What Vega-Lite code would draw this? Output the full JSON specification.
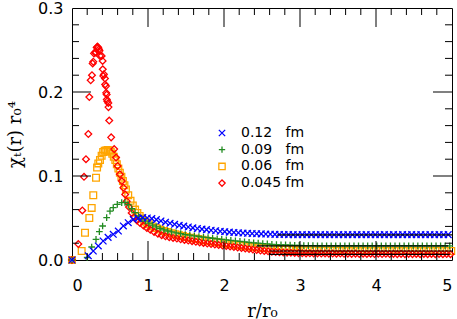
{
"$schema": "https://vega.github.io/schema/vega-lite/v6.json",
"width": 380, "height": 252,
"autosize": {"type": "none"},
"padding": {"left": 72, "top": 8, "right": 5, "bottom": 59},
"config": {
  "view": {"stroke": "#000", "strokeWidth": 1},
  "axis": {"domain": false, "grid": false, "ticks": false, "labelColor": "#000", "titleColor": "#000", "labelFont": "DejaVu Sans", "labelFontSize": 16, "titleFont": "DejaVu Serif", "titleFontSize": 18, "titleFontWeight": "normal"}
},
"datasets": {
"pts": [
{"a":"0.06","r":0,"v":0},{"a":"0.06","r":0.127,"v":0.0107},{"a":"0.06","r":0.171,"v":0.0325},{"a":"0.06","r":0.228,"v":0.05},{"a":"0.06","r":0.259,"v":0.062},{"a":"0.06","r":0.28,"v":0.077},{"a":"0.06","r":0.316,"v":0.098},{"a":"0.06","r":0.33,"v":0.11},{"a":"0.06","r":0.346,"v":0.115},{"a":"0.06","r":0.368,"v":0.119},{"a":"0.06","r":0.39,"v":0.124},{"a":"0.06","r":0.41,"v":0.1285},{"a":"0.06","r":0.43,"v":0.13},{"a":"0.06","r":0.45,"v":0.1305},{"a":"0.06","r":0.47,"v":0.131},{"a":"0.06","r":0.49,"v":0.1305},{"a":"0.06","r":0.51,"v":0.129},{"a":"0.06","r":0.53,"v":0.1265},{"a":"0.06","r":0.55,"v":0.123},{"a":"0.06","r":0.57,"v":0.119},{"a":"0.06","r":0.59,"v":0.114},{"a":"0.06","r":0.61,"v":0.109},{"a":"0.06","r":0.63,"v":0.104},{"a":"0.06","r":0.65,"v":0.099},{"a":"0.06","r":0.67,"v":0.094},{"a":"0.06","r":0.69,"v":0.089},{"a":"0.06","r":0.71,"v":0.084},{"a":"0.06","r":0.74,"v":0.077},{"a":"0.06","r":0.77,"v":0.0705},{"a":"0.06","r":0.8,"v":0.065},{"a":"0.06","r":0.83,"v":0.06},{"a":"0.06","r":0.86,"v":0.056},{"a":"0.06","r":0.89,"v":0.0525},{"a":"0.06","r":0.92,"v":0.0495},{"a":"0.06","r":0.95,"v":0.0468},{"a":"0.06","r":0.98,"v":0.0445},{"a":"0.06","r":1.01,"v":0.0425},{"a":"0.06","r":1.06,"v":0.04},{"a":"0.06","r":1.11,"v":0.038},{"a":"0.06","r":1.16,"v":0.0362},{"a":"0.06","r":1.21,"v":0.0346},{"a":"0.06","r":1.26,"v":0.0332},{"a":"0.06","r":1.31,"v":0.0318},{"a":"0.06","r":1.36,"v":0.0306},{"a":"0.06","r":1.41,"v":0.0295},{"a":"0.06","r":1.46,"v":0.0285},{"a":"0.06","r":1.51,"v":0.0275},{"a":"0.06","r":1.56,"v":0.0266},{"a":"0.06","r":1.61,"v":0.0257},{"a":"0.06","r":1.66,"v":0.0249},{"a":"0.06","r":1.71,"v":0.0241},{"a":"0.06","r":1.76,"v":0.0233},{"a":"0.06","r":1.81,"v":0.0225},{"a":"0.06","r":1.86,"v":0.0218},{"a":"0.06","r":1.91,"v":0.0211},{"a":"0.06","r":1.96,"v":0.0204},{"a":"0.06","r":2.01,"v":0.0197},{"a":"0.06","r":2.06,"v":0.0191},{"a":"0.06","r":2.11,"v":0.0185},{"a":"0.06","r":2.16,"v":0.0179},{"a":"0.06","r":2.21,"v":0.0173},{"a":"0.06","r":2.26,"v":0.0167},{"a":"0.06","r":2.31,"v":0.0162},{"a":"0.06","r":2.36,"v":0.0157},{"a":"0.06","r":2.41,"v":0.0152},{"a":"0.06","r":2.46,"v":0.0148},{"a":"0.06","r":2.51,"v":0.0144},{"a":"0.06","r":2.56,"v":0.014},{"a":"0.06","r":2.61,"v":0.0136},{"a":"0.06","r":2.66,"v":0.0133},{"a":"0.06","r":2.71,"v":0.013},{"a":"0.06","r":2.76,"v":0.0127},{"a":"0.06","r":2.81,"v":0.0124},{"a":"0.06","r":2.86,"v":0.0122},{"a":"0.06","r":2.91,"v":0.012},{"a":"0.06","r":2.96,"v":0.0118},{"a":"0.06","r":3.01,"v":0.0116},{"a":"0.06","r":3.07,"v":0.0115},{"a":"0.06","r":3.13,"v":0.0114},{"a":"0.06","r":3.19,"v":0.0113},{"a":"0.06","r":3.25,"v":0.0112},{"a":"0.06","r":3.31,"v":0.0111},{"a":"0.06","r":3.37,"v":0.0111},{"a":"0.06","r":3.43,"v":0.011},{"a":"0.06","r":3.49,"v":0.011},{"a":"0.06","r":3.55,"v":0.0109},{"a":"0.06","r":3.61,"v":0.0109},{"a":"0.06","r":3.67,"v":0.0109},{"a":"0.06","r":3.73,"v":0.0108},{"a":"0.06","r":3.79,"v":0.0108},{"a":"0.06","r":3.85,"v":0.0108},{"a":"0.06","r":3.91,"v":0.0108},{"a":"0.06","r":3.97,"v":0.0107},{"a":"0.06","r":4.03,"v":0.0107},{"a":"0.06","r":4.09,"v":0.0107},{"a":"0.06","r":4.15,"v":0.0107},{"a":"0.06","r":4.21,"v":0.0107},{"a":"0.06","r":4.27,"v":0.0107},{"a":"0.06","r":4.33,"v":0.0107},{"a":"0.06","r":4.39,"v":0.0107},{"a":"0.06","r":4.45,"v":0.0107},{"a":"0.06","r":4.51,"v":0.0107},{"a":"0.06","r":4.57,"v":0.0107},{"a":"0.06","r":4.63,"v":0.0107},{"a":"0.06","r":4.69,"v":0.0107},{"a":"0.06","r":4.75,"v":0.0107},{"a":"0.06","r":4.81,"v":0.0107},{"a":"0.06","r":4.87,"v":0.0107},{"a":"0.06","r":4.93,"v":0.0107},{"a":"0.06","r":4.99,"v":0.0107},
{"a":"0.045","r":0,"v":0},{"a":"0.045","r":0.083,"v":0.019},{"a":"0.045","r":0.136,"v":0.059},{"a":"0.045","r":0.158,"v":0.099},{"a":"0.045","r":0.184,"v":0.12},{"a":"0.045","r":0.215,"v":0.15},{"a":"0.045","r":0.228,"v":0.194},{"a":"0.045","r":0.246,"v":0.214},{"a":"0.045","r":0.263,"v":0.22},{"a":"0.045","r":0.272,"v":0.234},{"a":"0.045","r":0.28,"v":0.236},{"a":"0.045","r":0.289,"v":0.246},{"a":"0.045","r":0.303,"v":0.247},{"a":"0.045","r":0.316,"v":0.247},{"a":"0.045","r":0.325,"v":0.253},{"a":"0.045","r":0.335,"v":0.254},{"a":"0.045","r":0.345,"v":0.253},{"a":"0.045","r":0.355,"v":0.251},{"a":"0.045","r":0.362,"v":0.249},{"a":"0.045","r":0.368,"v":0.243},{"a":"0.045","r":0.39,"v":0.243},{"a":"0.045","r":0.403,"v":0.237},{"a":"0.045","r":0.405,"v":0.227},{"a":"0.045","r":0.412,"v":0.219},{"a":"0.045","r":0.42,"v":0.221},{"a":"0.045","r":0.434,"v":0.216},{"a":"0.045","r":0.436,"v":0.209},{"a":"0.045","r":0.447,"v":0.207},{"a":"0.045","r":0.449,"v":0.199},{"a":"0.045","r":0.456,"v":0.197},{"a":"0.045","r":0.458,"v":0.191},{"a":"0.045","r":0.465,"v":0.189},{"a":"0.045","r":0.478,"v":0.187},{"a":"0.045","r":0.48,"v":0.182},{"a":"0.045","r":0.49,"v":0.166},{"a":"0.045","r":0.515,"v":0.146},{"a":"0.045","r":0.555,"v":0.132},{"a":"0.045","r":0.58,"v":0.122},{"a":"0.045","r":0.6,"v":0.112},{"a":"0.045","r":0.63,"v":0.102},{"a":"0.045","r":0.655,"v":0.094},{"a":"0.045","r":0.676,"v":0.086},{"a":"0.045","r":0.7,"v":0.078},{"a":"0.045","r":0.72,"v":0.07},{"a":"0.045","r":0.75,"v":0.063},{"a":"0.045","r":0.785,"v":0.056},{"a":"0.045","r":0.82,"v":0.051},{"a":"0.045","r":0.855,"v":0.047},{"a":"0.045","r":0.895,"v":0.044},{"a":"0.045","r":0.94,"v":0.041},{"a":"0.045","r":0.985,"v":0.038},{"a":"0.045","r":1.03,"v":0.036},{"a":"0.045","r":1.08,"v":0.0335},{"a":"0.045","r":1.13,"v":0.0312},{"a":"0.045","r":1.18,"v":0.0295},{"a":"0.045","r":1.23,"v":0.0282},{"a":"0.045","r":1.28,"v":0.0272},{"a":"0.045","r":1.33,"v":0.0263},{"a":"0.045","r":1.38,"v":0.0255},{"a":"0.045","r":1.43,"v":0.0247},{"a":"0.045","r":1.48,"v":0.0239},{"a":"0.045","r":1.53,"v":0.0231},{"a":"0.045","r":1.58,"v":0.0224},{"a":"0.045","r":1.63,"v":0.0217},{"a":"0.045","r":1.68,"v":0.021},{"a":"0.045","r":1.73,"v":0.0203},{"a":"0.045","r":1.78,"v":0.0196},{"a":"0.045","r":1.83,"v":0.019},{"a":"0.045","r":1.88,"v":0.0184},{"a":"0.045","r":1.93,"v":0.0178},{"a":"0.045","r":1.98,"v":0.0172},{"a":"0.045","r":2.03,"v":0.0166},{"a":"0.045","r":2.08,"v":0.016},{"a":"0.045","r":2.13,"v":0.0154},{"a":"0.045","r":2.18,"v":0.0148},{"a":"0.045","r":2.23,"v":0.0142},{"a":"0.045","r":2.28,"v":0.0136},{"a":"0.045","r":2.33,"v":0.013},{"a":"0.045","r":2.38,"v":0.0124},{"a":"0.045","r":2.43,"v":0.0118},{"a":"0.045","r":2.48,"v":0.0112},{"a":"0.045","r":2.53,"v":0.0107},{"a":"0.045","r":2.58,"v":0.0103},{"a":"0.045","r":2.63,"v":0.0099},{"a":"0.045","r":2.68,"v":0.0096},{"a":"0.045","r":2.73,"v":0.0093},{"a":"0.045","r":2.78,"v":0.009},{"a":"0.045","r":2.83,"v":0.0088},{"a":"0.045","r":2.88,"v":0.0086},{"a":"0.045","r":2.93,"v":0.0084},{"a":"0.045","r":2.98,"v":0.0082},{"a":"0.045","r":3.03,"v":0.0081},{"a":"0.045","r":3.08,"v":0.0079},{"a":"0.045","r":3.13,"v":0.008},{"a":"0.045","r":3.18,"v":0.0078},{"a":"0.045","r":3.23,"v":0.0079},{"a":"0.045","r":3.28,"v":0.0077},{"a":"0.045","r":3.33,"v":0.0078},{"a":"0.045","r":3.38,"v":0.0076},{"a":"0.045","r":3.43,"v":0.0077},{"a":"0.045","r":3.48,"v":0.0075},{"a":"0.045","r":3.53,"v":0.0077},{"a":"0.045","r":3.58,"v":0.0074},{"a":"0.045","r":3.63,"v":0.0076},{"a":"0.045","r":3.68,"v":0.0073},{"a":"0.045","r":3.73,"v":0.0076},{"a":"0.045","r":3.78,"v":0.0072},{"a":"0.045","r":3.83,"v":0.0075},{"a":"0.045","r":3.88,"v":0.0072},{"a":"0.045","r":3.93,"v":0.0075},{"a":"0.045","r":3.98,"v":0.0071},{"a":"0.045","r":4.03,"v":0.0074},{"a":"0.045","r":4.08,"v":0.0071},{"a":"0.045","r":4.13,"v":0.0074},{"a":"0.045","r":4.18,"v":0.0071},{"a":"0.045","r":4.23,"v":0.0073},{"a":"0.045","r":4.28,"v":0.007},{"a":"0.045","r":4.33,"v":0.0073},{"a":"0.045","r":4.38,"v":0.007},{"a":"0.045","r":4.43,"v":0.0073},{"a":"0.045","r":4.48,"v":0.007},{"a":"0.045","r":4.53,"v":0.0072},{"a":"0.045","r":4.58,"v":0.007},{"a":"0.045","r":4.63,"v":0.0072},{"a":"0.045","r":4.68,"v":0.0069},{"a":"0.045","r":4.73,"v":0.0072},{"a":"0.045","r":4.78,"v":0.0069},{"a":"0.045","r":4.83,"v":0.0072},{"a":"0.045","r":4.88,"v":0.0069},{"a":"0.045","r":4.93,"v":0.0071},{"a":"0.045","r":4.98,"v":0.0069},
{"a":"0.09","r":0,"v":0},{"a":"0.09","r":0.2,"v":0.003},{"a":"0.09","r":0.259,"v":0.0155},{"a":"0.09","r":0.316,"v":0.0246},{"a":"0.09","r":0.36,"v":0.0337},{"a":"0.09","r":0.403,"v":0.0405},{"a":"0.09","r":0.456,"v":0.0504},{"a":"0.09","r":0.5,"v":0.0583},{"a":"0.09","r":0.543,"v":0.0623},{"a":"0.09","r":0.596,"v":0.0663},{"a":"0.09","r":0.654,"v":0.0682},{"a":"0.09","r":0.697,"v":0.0685},{"a":"0.09","r":0.74,"v":0.066},{"a":"0.09","r":0.785,"v":0.061},{"a":"0.09","r":0.83,"v":0.0565},{"a":"0.09","r":0.875,"v":0.0525},{"a":"0.09","r":0.92,"v":0.0492},{"a":"0.09","r":0.965,"v":0.0462},{"a":"0.09","r":1.01,"v":0.0438},{"a":"0.09","r":1.06,"v":0.0415},{"a":"0.09","r":1.11,"v":0.0395},{"a":"0.09","r":1.16,"v":0.0375},{"a":"0.09","r":1.21,"v":0.0358},{"a":"0.09","r":1.26,"v":0.0345},{"a":"0.09","r":1.31,"v":0.0334},{"a":"0.09","r":1.37,"v":0.0323},{"a":"0.09","r":1.43,"v":0.0313},{"a":"0.09","r":1.49,"v":0.0303},{"a":"0.09","r":1.55,"v":0.0295},{"a":"0.09","r":1.61,"v":0.0287},{"a":"0.09","r":1.67,"v":0.028},{"a":"0.09","r":1.73,"v":0.0273},{"a":"0.09","r":1.79,"v":0.0266},{"a":"0.09","r":1.85,"v":0.0259},{"a":"0.09","r":1.91,"v":0.0252},{"a":"0.09","r":1.97,"v":0.0246},{"a":"0.09","r":2.03,"v":0.024},{"a":"0.09","r":2.09,"v":0.0234},{"a":"0.09","r":2.15,"v":0.0228},{"a":"0.09","r":2.21,"v":0.0222},{"a":"0.09","r":2.27,"v":0.0216},{"a":"0.09","r":2.33,"v":0.021},{"a":"0.09","r":2.39,"v":0.0205},{"a":"0.09","r":2.45,"v":0.02},{"a":"0.09","r":2.51,"v":0.0195},{"a":"0.09","r":2.57,"v":0.0191},{"a":"0.09","r":2.63,"v":0.0187},{"a":"0.09","r":2.69,"v":0.0184},{"a":"0.09","r":2.75,"v":0.0181},{"a":"0.09","r":2.81,"v":0.0179},{"a":"0.09","r":2.87,"v":0.0177},{"a":"0.09","r":2.93,"v":0.0175},{"a":"0.09","r":2.99,"v":0.0173},{"a":"0.09","r":3.05,"v":0.0172},{"a":"0.09","r":3.11,"v":0.0171},{"a":"0.09","r":3.17,"v":0.017},{"a":"0.09","r":3.23,"v":0.0169},{"a":"0.09","r":3.29,"v":0.0169},{"a":"0.09","r":3.35,"v":0.0168},{"a":"0.09","r":3.41,"v":0.0168},{"a":"0.09","r":3.47,"v":0.0168},{"a":"0.09","r":3.53,"v":0.0167},{"a":"0.09","r":3.59,"v":0.0167},{"a":"0.09","r":3.65,"v":0.0167},{"a":"0.09","r":3.71,"v":0.0167},{"a":"0.09","r":3.77,"v":0.0167},{"a":"0.09","r":3.83,"v":0.0167},{"a":"0.09","r":3.89,"v":0.0167},{"a":"0.09","r":3.95,"v":0.0167},{"a":"0.09","r":4.01,"v":0.0167},{"a":"0.09","r":4.07,"v":0.0167},{"a":"0.09","r":4.13,"v":0.0167},{"a":"0.09","r":4.19,"v":0.0167},{"a":"0.09","r":4.25,"v":0.0167},{"a":"0.09","r":4.31,"v":0.0167},{"a":"0.09","r":4.37,"v":0.0167},{"a":"0.09","r":4.43,"v":0.0167},{"a":"0.09","r":4.49,"v":0.0167},{"a":"0.09","r":4.55,"v":0.0167},{"a":"0.09","r":4.61,"v":0.0167},{"a":"0.09","r":4.67,"v":0.0167},{"a":"0.09","r":4.73,"v":0.0167},{"a":"0.09","r":4.79,"v":0.0167},{"a":"0.09","r":4.85,"v":0.0167},{"a":"0.09","r":4.91,"v":0.0167},{"a":"0.09","r":4.97,"v":0.0167},
{"a":"0.12","r":0,"v":0},{"a":"0.12","r":0.215,"v":0.005},{"a":"0.12","r":0.28,"v":0.0107},{"a":"0.12","r":0.346,"v":0.0167},{"a":"0.12","r":0.41,"v":0.0226},{"a":"0.12","r":0.475,"v":0.027},{"a":"0.12","r":0.543,"v":0.0306},{"a":"0.12","r":0.61,"v":0.0345},{"a":"0.12","r":0.676,"v":0.0405},{"a":"0.12","r":0.74,"v":0.0444},{"a":"0.12","r":0.807,"v":0.0484},{"a":"0.12","r":0.87,"v":0.0496},{"a":"0.12","r":0.93,"v":0.0505},{"a":"0.12","r":0.99,"v":0.05},{"a":"0.12","r":1.05,"v":0.0492},{"a":"0.12","r":1.11,"v":0.048},{"a":"0.12","r":1.17,"v":0.0465},{"a":"0.12","r":1.23,"v":0.045},{"a":"0.12","r":1.29,"v":0.0437},{"a":"0.12","r":1.35,"v":0.0425},{"a":"0.12","r":1.41,"v":0.0413},{"a":"0.12","r":1.47,"v":0.0403},{"a":"0.12","r":1.53,"v":0.0393},{"a":"0.12","r":1.59,"v":0.0383},{"a":"0.12","r":1.65,"v":0.0375},{"a":"0.12","r":1.71,"v":0.0368},{"a":"0.12","r":1.77,"v":0.0361},{"a":"0.12","r":1.83,"v":0.0354},{"a":"0.12","r":1.89,"v":0.0348},{"a":"0.12","r":1.95,"v":0.0342},{"a":"0.12","r":2.01,"v":0.0337},{"a":"0.12","r":2.07,"v":0.0332},{"a":"0.12","r":2.13,"v":0.0328},{"a":"0.12","r":2.19,"v":0.0324},{"a":"0.12","r":2.25,"v":0.0321},{"a":"0.12","r":2.31,"v":0.0318},{"a":"0.12","r":2.37,"v":0.0315},{"a":"0.12","r":2.43,"v":0.0313},{"a":"0.12","r":2.49,"v":0.0311},{"a":"0.12","r":2.55,"v":0.0309},{"a":"0.12","r":2.61,"v":0.0307},{"a":"0.12","r":2.67,"v":0.0305},{"a":"0.12","r":2.73,"v":0.0304},{"a":"0.12","r":2.79,"v":0.0303},{"a":"0.12","r":2.85,"v":0.0302},{"a":"0.12","r":2.91,"v":0.0302},{"a":"0.12","r":2.97,"v":0.0301},{"a":"0.12","r":3.03,"v":0.0302},{"a":"0.12","r":3.09,"v":0.0301},{"a":"0.12","r":3.15,"v":0.0302},{"a":"0.12","r":3.21,"v":0.0301},{"a":"0.12","r":3.27,"v":0.0302},{"a":"0.12","r":3.33,"v":0.0301},{"a":"0.12","r":3.39,"v":0.0302},{"a":"0.12","r":3.45,"v":0.0301},{"a":"0.12","r":3.51,"v":0.0302},{"a":"0.12","r":3.57,"v":0.0301},{"a":"0.12","r":3.63,"v":0.0302},{"a":"0.12","r":3.69,"v":0.0301},{"a":"0.12","r":3.75,"v":0.0302},{"a":"0.12","r":3.81,"v":0.0301},{"a":"0.12","r":3.87,"v":0.0302},{"a":"0.12","r":3.93,"v":0.0301},{"a":"0.12","r":3.99,"v":0.0302},{"a":"0.12","r":4.05,"v":0.0301},{"a":"0.12","r":4.11,"v":0.0302},{"a":"0.12","r":4.17,"v":0.0301},{"a":"0.12","r":4.23,"v":0.0302},{"a":"0.12","r":4.29,"v":0.0301},{"a":"0.12","r":4.35,"v":0.0302},{"a":"0.12","r":4.41,"v":0.0301},{"a":"0.12","r":4.47,"v":0.0302},{"a":"0.12","r":4.53,"v":0.0301},{"a":"0.12","r":4.59,"v":0.0302},{"a":"0.12","r":4.65,"v":0.0301},{"a":"0.12","r":4.71,"v":0.0302},{"a":"0.12","r":4.77,"v":0.0301},{"a":"0.12","r":4.83,"v":0.0302},{"a":"0.12","r":4.89,"v":0.0301},{"a":"0.12","r":4.95,"v":0.0302}
],
"fits": [
{"a":"0.12","r0":2.7,"r1":5,"v":0.03},
{"a":"0.09","r0":2.43,"r1":4.95,"v":0.0167},
{"a":"0.06","r0":2.6,"r1":5,"v":0.0107},
{"a":"0.045","r0":2.6,"r1":4.97,"v":0.0068}
],
"xmaj": [{"t":1},{"t":2},{"t":3},{"t":4}],
"xmin": [{"t":0.2},{"t":0.4},{"t":0.6},{"t":0.8},{"t":1.2},{"t":1.4},{"t":1.6},{"t":1.8},{"t":2.2},{"t":2.4},{"t":2.6},{"t":2.8},{"t":3.2},{"t":3.4},{"t":3.6},{"t":3.8},{"t":4.2},{"t":4.4},{"t":4.6},{"t":4.8}],
"ymaj": [{"t":0.1},{"t":0.2}],
"ymin": [{"t":0.02},{"t":0.04},{"t":0.06},{"t":0.08},{"t":0.12},{"t":0.14},{"t":0.16},{"t":0.18},{"t":0.22},{"t":0.24},{"t":0.26},{"t":0.28}]
},
"layer": [
{
  "data": {"name": "pts"},
  "mark": {"type": "point", "filled": false, "strokeWidth": 1.3, "opacity": 1},
  "encoding": {
    "x": {"field": "r", "type": "quantitative", "scale": {"domain": [0, 5], "nice": false, "zero": false},
      "axis": {"orient": "bottom", "values": [0,1,2,3,4,5], "format": "d", "labelPadding": 17, "title": "r/r₀", "titlePadding": 9}},
    "y": {"field": "v", "type": "quantitative", "scale": {"domain": [0, 0.3], "nice": false, "zero": false},
      "axis": {"orient": "left", "values": [0, 0.1, 0.2, 0.3], "format": ".1f", "labelPadding": 9, "title": "χₜ(r) r₀⁴", "titlePadding": 13}},
    "color": {"field": "a", "type": "nominal",
      "scale": {"domain": ["0.12","0.09","0.06","0.045"], "range": ["#0000ff","#228b22","#ffa500","#ff0000"]},
      "legend": {"orient": "none", "legendX": 143, "legendY": 118, "title": null, "padding": 0,
        "labelFont": "DejaVu Sans", "labelFontSize": 14, "labelOffset": 12, "rowPadding": 2.7,
        "symbolSize": 40, "symbolStrokeWidth": 1.3,
        "labelExpr": "datum.label == '0.045' ? datum.label + '\u00a0fm' : datum.label + '\u2007\u00a0fm'",
        "encode": {"labels": {"update": {"fill": {"scale": "color", "field": "value"}}}}}},
    "shape": {"field": "a", "type": "nominal",
      "scale": {"domain": ["0.12","0.09","0.06","0.045"], "range": ["M-1,-1L1,1M-1,1L1,-1", "M-1,0L1,0M0,-1L0,1", "square", "diamond"]}},
    "size": {"value": 45}
  }
},
{
  "data": {"name": "fits"},
  "mark": {"type": "rule", "color": "#000", "strokeWidth": 1.2},
  "encoding": {
    "x": {"field": "r0", "type": "quantitative"},
    "x2": {"field": "r1"},
    "y": {"field": "v", "type": "quantitative"}
  }
},
{"data": {"name": "xmaj"}, "mark": {"type": "tick", "orient": "vertical", "size": 19, "thickness": 1, "color": "#000", "opacity": 1, "yOffset": -9.5},
 "encoding": {"x": {"field": "t", "type": "quantitative"}, "y": {"datum": 0, "type": "quantitative"}}},
{"data": {"name": "xmin"}, "mark": {"type": "tick", "orient": "vertical", "size": 7, "thickness": 1, "color": "#000", "opacity": 1, "yOffset": -3.5},
 "encoding": {"x": {"field": "t", "type": "quantitative"}, "y": {"datum": 0, "type": "quantitative"}}},
{"data": {"name": "xmaj"}, "mark": {"type": "tick", "orient": "vertical", "size": 19, "thickness": 1, "color": "#000", "opacity": 1, "yOffset": 9.5},
 "encoding": {"x": {"field": "t", "type": "quantitative"}, "y": {"datum": 0.3, "type": "quantitative"}}},
{"data": {"name": "xmin"}, "mark": {"type": "tick", "orient": "vertical", "size": 7, "thickness": 1, "color": "#000", "opacity": 1, "yOffset": 3.5},
 "encoding": {"x": {"field": "t", "type": "quantitative"}, "y": {"datum": 0.3, "type": "quantitative"}}},
{"data": {"name": "ymaj"}, "mark": {"type": "tick", "orient": "horizontal", "size": 19, "thickness": 1, "color": "#000", "opacity": 1, "xOffset": 9.5},
 "encoding": {"y": {"field": "t", "type": "quantitative"}, "x": {"datum": 0, "type": "quantitative"}}},
{"data": {"name": "ymin"}, "mark": {"type": "tick", "orient": "horizontal", "size": 7, "thickness": 1, "color": "#000", "opacity": 1, "xOffset": 3.5},
 "encoding": {"y": {"field": "t", "type": "quantitative"}, "x": {"datum": 0, "type": "quantitative"}}},
{"data": {"name": "ymaj"}, "mark": {"type": "tick", "orient": "horizontal", "size": 19, "thickness": 1, "color": "#000", "opacity": 1, "xOffset": -9.5},
 "encoding": {"y": {"field": "t", "type": "quantitative"}, "x": {"datum": 5, "type": "quantitative"}}},
{"data": {"name": "ymin"}, "mark": {"type": "tick", "orient": "horizontal", "size": 7, "thickness": 1, "color": "#000", "opacity": 1, "xOffset": -3.5},
 "encoding": {"y": {"field": "t", "type": "quantitative"}, "x": {"datum": 5, "type": "quantitative"}}}
]
}
